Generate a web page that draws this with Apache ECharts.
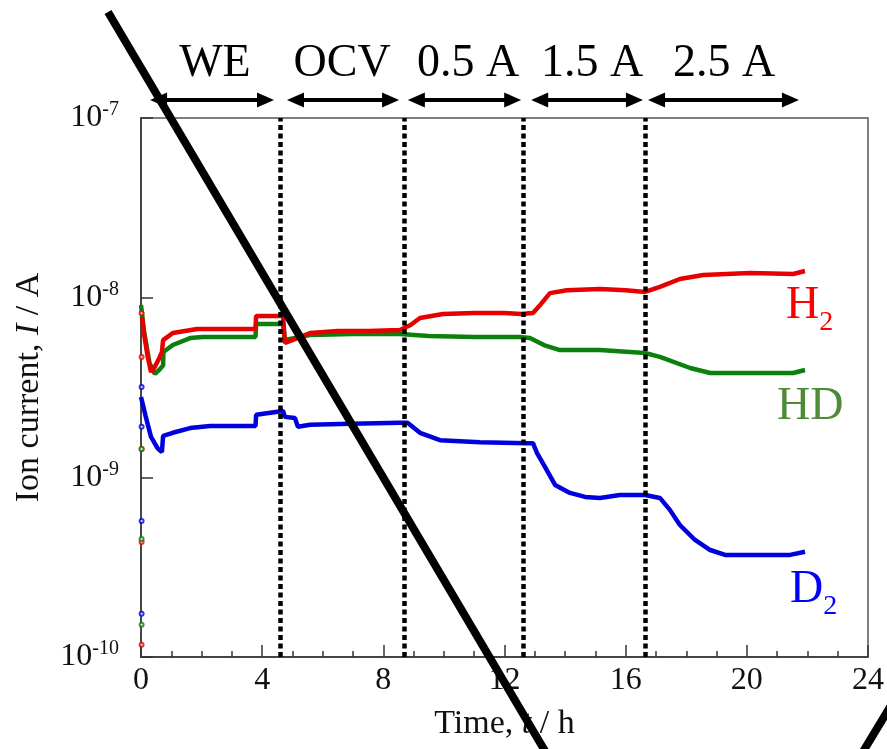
<!DOCTYPE html>
<html>
<head>
<meta charset="utf-8">
<script src="https://cdn.jsdelivr.net/npm/echarts@6/dist/echarts.min.js"></script>
<style>
html,body{margin:0;padding:0;background:#fff;}
#chart{width:887px;height:749px;}
</style>
</head>
<body>
<div id="chart"></div>
<script>
// ---- data (time in h, ion current in A) ----
const h2Time = [0.03,0.12,0.22,0.33,0.45,0.60,0.69,0.73,1.05,1.85,2.94,3.78,3.80,4.30,4.69,4.75,5.00,5.58,6.50,7.50,8.55,8.90,9.21,9.97,11.0,12.0,12.55,12.94,13.2,13.5,14.06,15.15,16.0,16.64,17.13,17.79,18.56,20.11,21.53,21.92];
const h2Val  = [7.8e-9,6.0e-9,4.7e-9,3.86e-9,4.1e-9,4.6e-9,4.98e-9,5.8e-9,6.36e-9,6.69e-9,6.69e-9,6.69e-9,7.91e-9,7.91e-9,7.91e-9,5.6e-9,5.8e-9,6.36e-9,6.53e-9,6.53e-9,6.61e-9,7.05e-9,7.71e-9,8.11e-9,8.22e-9,8.22e-9,8.11e-9,8.22e-9,9.2e-9,1.06e-8,1.10e-8,1.118e-8,1.10e-8,1.076e-8,1.147e-8,1.27e-8,1.338e-8,1.372e-8,1.355e-8,1.408e-8];

const hdTime = [0.0,0.10,0.28,0.46,0.60,0.73,0.74,1.05,1.62,2.05,3.0,3.78,3.80,4.69,4.75,5.25,5.58,7.0,8.55,9.5,11.0,12.51,12.84,13.3,13.83,15.15,16.64,17.13,18.13,18.79,20.11,21.53,21.92];
const hdVal  = [9.1e-9,6.5e-9,4.33e-9,3.76e-9,3.96e-9,4.2e-9,4.98e-9,5.45e-9,5.96e-9,6.04e-9,6.04e-9,6.04e-9,7.14e-9,7.14e-9,5.81e-9,6.04e-9,6.20e-9,6.28e-9,6.28e-9,6.12e-9,6.04e-9,6.04e-9,5.96e-9,5.45e-9,5.11e-9,5.11e-9,4.92e-9,4.68e-9,4.06e-9,3.81e-9,3.81e-9,3.81e-9,3.96e-9];

const d2Time = [0.0,0.15,0.33,0.55,0.69,0.73,1.05,1.62,2.28,3.78,3.80,4.69,4.75,5.08,5.18,5.58,6.57,8.55,8.80,9.21,9.87,11.19,12.74,12.94,13.07,13.34,13.67,14.16,14.66,15.15,15.81,16.64,17.13,17.46,17.79,18.29,18.79,19.28,20.11,21.43,21.92];
const d2Val  = [2.80e-9,2.2e-9,1.68e-9,1.45e-9,1.38e-9,1.70e-9,1.77e-9,1.88e-9,1.93e-9,1.93e-9,2.23e-9,2.34e-9,2.17e-9,2.14e-9,1.91e-9,1.96e-9,1.98e-9,2.01e-9,2.01e-9,1.77e-9,1.61e-9,1.57e-9,1.55e-9,1.55e-9,1.37e-9,1.14e-9,9.07e-10,8.19e-10,7.78e-10,7.68e-10,7.98e-10,7.98e-10,7.68e-10,6.59e-10,5.43e-10,4.48e-10,3.94e-10,3.70e-10,3.70e-10,3.70e-10,3.85e-10];

// stray first readings at t = 0
const h2Stray = [1.17e-10,4.37e-10,1.44e-9,4.68e-9,8.2e-9];
const hdStray = [1.51e-10,4.54e-10,1.44e-9];
const d2Stray = [1.74e-10,5.72e-10,1.91e-9,3.18e-9];

// phases
const phaseBounds = [4.59, 8.68, 12.62, 16.66];
const phaseNames  = ['WE','OCV','0.5 A','1.5 A','2.5 A'];
const arrowStart  = [0.30, 4.82, 8.81, 12.88, 16.74];
const arrowEnd    = [4.39, 8.52, 12.55, 16.57, 21.72];
const phaseLabelX = [2.44, 6.64, 10.80, 14.89, 19.25];

const xTicks = [0,4,8,12,16,20,24];

const FONT = 'Liberation Serif';
const RED = '#e60000', GREEN = '#0b800b', BLUE = '#0000dd';

function pairs(t, v){ return t.map((x,i)=>[x, v[i]]); }
function stray(v){ return v.map(y=>[0.02, y]); }

const chart = echarts.init(document.getElementById('chart'), null, {renderer:'canvas'});

const option = {
  animation:false,
  backgroundColor:'#fff',
  grid:{left:141, right:19, top:118, bottom:92, show:true, borderColor:'#555', borderWidth:1.5, backgroundColor:'transparent'},
  xAxis:{
    type:'value', min:xTicks[0], max:xTicks[xTicks.length-1], interval:4,
    name:'{n|Time, }{i|t}{n| / h}', nameLocation:'middle', nameGap:50,
    nameTextStyle:{rich:{n:{fontSize:34,fontFamily:FONT,color:'#111'}, i:{fontSize:34,fontFamily:FONT,fontStyle:'italic',color:'#111'}}},
    axisLine:{show:true, lineStyle:{color:'#333', width:1.5}},
    axisTick:{show:true, inside:true, length:12, lineStyle:{color:'#333', width:1.5}},
    minorTick:{show:true, splitNumber:4, length:6, lineStyle:{color:'#333', width:1.5}},
    splitLine:{show:false},
    axisLabel:{fontSize:32, fontFamily:FONT, color:'#111', margin:8}
  },
  yAxis:{
    type:'log', logBase:10, min:1e-10, max:1e-7,
    name:'{n|Ion current, }{i|I}{n| / A}', nameLocation:'middle', nameGap:95, nameRotate:90,
    nameTextStyle:{rich:{n:{fontSize:34,fontFamily:FONT,color:'#111'}, i:{fontSize:34,fontFamily:FONT,fontStyle:'italic',color:'#111'}}},
    axisLine:{show:true, lineStyle:{color:'#333', width:1.5}},
    axisTick:{show:true, inside:true, length:12, lineStyle:{color:'#333', width:1.5}},
    minorTick:{show:false},
    splitLine:{show:false},
    axisLabel:{
      margin:22,
      formatter:function(v){ return '{b|10}{s|' + Math.round(Math.log10(v)) + '}'; },
      rich:{
        b:{fontSize:32, fontFamily:FONT, color:'#111', lineHeight:36},
        s:{fontSize:20, fontFamily:FONT, color:'#111', verticalAlign:'top'}
      }
    }
  },
  series:[
    {name:'H2', type:'line', data:pairs(h2Time,h2Val), showSymbol:false, symbol:'none', lineStyle:{color:RED, width:4.5}, itemStyle:{color:RED}, z:3,
     markLine:{silent:true, symbol:['none','none'], label:{show:false}, animation:false,
       lineStyle:{color:'#000', width:4.5, type:[5,3.5]},
       data:phaseBounds.map(b=>({xAxis:b}))}},
    {name:'HD', type:'line', data:pairs(hdTime,hdVal), showSymbol:false, symbol:'none', lineStyle:{color:GREEN, width:4.5}, itemStyle:{color:GREEN}, z:2},
    {name:'D2', type:'line', data:pairs(d2Time,d2Val), showSymbol:false, symbol:'none', lineStyle:{color:BLUE, width:4.5}, itemStyle:{color:BLUE}, z:2},
    {type:'scatter', data:stray(h2Stray), symbol:'emptyCircle', symbolSize:4, itemStyle:{color:RED, borderColor:RED}},
    {type:'scatter', data:stray(hdStray), symbol:'emptyCircle', symbolSize:4, itemStyle:{color:GREEN, borderColor:GREEN}},
    {type:'scatter', data:stray(d2Stray), symbol:'emptyCircle', symbolSize:4, itemStyle:{color:BLUE, borderColor:BLUE}}
  ]
};
chart.setOption(option);

// annotations: phase arrows & labels, species labels, overlay strokes
const ARROW_Y = 100;
const gfx = [];
for (let i=0;i<phaseNames.length;i++){
  const x1 = chart.convertToPixel({xAxisIndex:0}, arrowStart[i]);
  const x2 = chart.convertToPixel({xAxisIndex:0}, arrowEnd[i]);
  const cx = chart.convertToPixel({xAxisIndex:0}, phaseLabelX[i]);
  gfx.push({type:'line', z:10, shape:{x1:x1+10, y1:ARROW_Y, x2:x2-10, y2:ARROW_Y}, style:{stroke:'#000', lineWidth:4}});
  gfx.push({type:'polygon', z:10, shape:{points:[[x1,ARROW_Y],[x1+17,ARROW_Y-7.5],[x1+17,ARROW_Y+7.5]]}, style:{fill:'#000'}});
  gfx.push({type:'polygon', z:10, shape:{points:[[x2,ARROW_Y],[x2-17,ARROW_Y-7.5],[x2-17,ARROW_Y+7.5]]}, style:{fill:'#000'}});
  gfx.push({type:'text', z:10, x:cx, y:64, style:{text:phaseNames[i], fontSize:46, fontFamily:FONT, fill:'#000', align:'center', verticalAlign:'middle'}});
}
gfx.push({type:'text', z:10, x:786, y:306, style:{text:'{a|H}{b|2}', align:'left', verticalAlign:'middle',
  rich:{a:{fontSize:46, fontFamily:FONT, fill:'#ff0000'}, b:{fontSize:28, fontFamily:FONT, fill:'#ff0000', verticalAlign:'bottom', padding:[0,0,-8,0]}}}});
gfx.push({type:'text', z:10, x:777, y:407, style:{text:'HD', fontSize:46, fontFamily:FONT, fill:'#4f8a38', align:'left', verticalAlign:'middle'}});
gfx.push({type:'text', z:10, x:790, y:590, style:{text:'{a|D}{b|2}', align:'left', verticalAlign:'middle',
  rich:{a:{fontSize:46, fontFamily:FONT, fill:'#0000ff'}, b:{fontSize:28, fontFamily:FONT, fill:'#0000ff', verticalAlign:'bottom', padding:[0,0,-8,0]}}}});
// heavy black strokes drawn over the figure
gfx.push({type:'line', z:20, shape:{x1:108, y1:12, x2:545, y2:751}, style:{stroke:'#000', lineWidth:8}});
gfx.push({type:'line', z:20, shape:{x1:896, y1:697, x2:858, y2:760}, style:{stroke:'#000', lineWidth:8}});
chart.setOption({graphic:gfx});
</script>
</body>
</html>
